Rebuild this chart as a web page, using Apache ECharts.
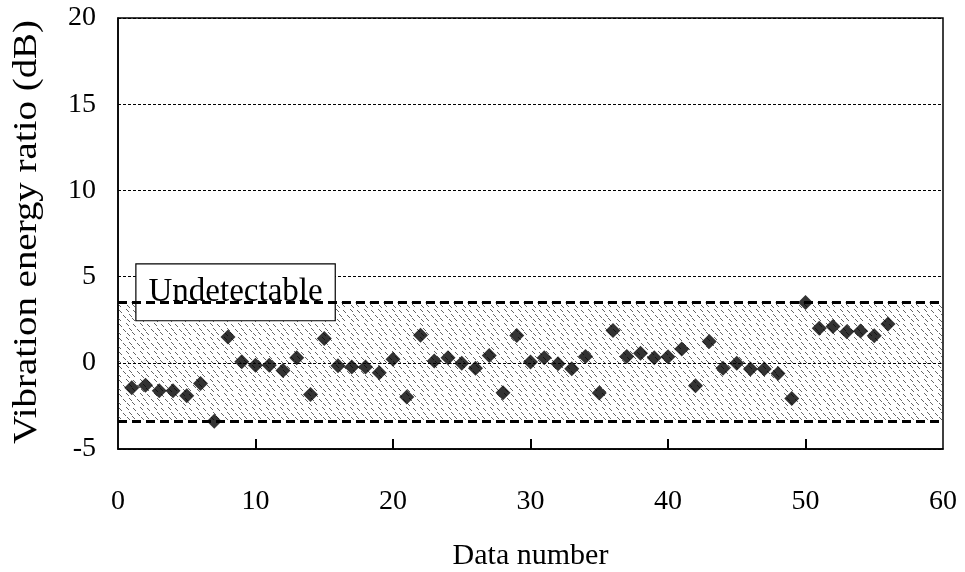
<!DOCTYPE html>
<html><head><meta charset="utf-8">
<script src="https://cdn.jsdelivr.net/npm/echarts@6/dist/echarts.min.js"></script>
<style>html,body{margin:0;padding:0;background:#fff}#c{width:965px;height:572px}</style>
</head><body><div id="c"></div>
<script>
const dataNumbers = [1,2,3,4,5,6,7,8,9,10,11,12,13,14,15,16,17,18,19,20,21,22,23,24,25,26,27,28,29,30,31,32,33,34,35,36,37,38,39,40,41,42,43,44,45,46,47,48,49,50,51,52,53,54,55,56];
const ratios = [-1.45,-1.3,-1.62,-1.62,-1.91,-1.2,-3.39,1.5,0.06,-0.14,-0.14,-0.45,0.29,-1.84,1.41,-0.17,-0.25,-0.25,-0.58,0.2,-1.99,1.6,0.1,0.3,-0.02,-0.31,0.43,-1.74,1.59,0.04,0.29,-0.06,-0.35,0.37,-1.75,1.88,0.37,0.56,0.3,0.35,0.8,-1.33,1.24,-0.31,-0.03,-0.36,-0.36,-0.62,-2.07,3.5,2.0,2.1,1.8,1.85,1.57,2.25];
const upperBound = 3.5;
const lowerBound = -3.4;
const xTicks = [0,10,20,30,40,50,60];
const yTicks = [-5,0,5,10,15,20];
const labelText = 'Undetectable';
const labelBox = [[1.3, 5.74],[15.8, 2.44]];
const xTitle = 'Data number';
const yTitle = 'Vibration energy ratio (dB)';

// hatch pattern
const pc = document.createElement('canvas');
pc.width = 14; pc.height = 14;
const g = pc.getContext('2d');
g.strokeStyle = 'rgba(50,50,50,0.75)';
g.lineWidth = 1;
[[0,1],[7,2],[3,6],[11,7],[6,10],[1,11]].forEach(([x,y])=>{g.beginPath();g.moveTo(x,y);g.lineTo(x+3,y+3);g.stroke();});

const font = 'Liberation Serif';
const yMin = yTicks[0];
const chart = echarts.init(document.getElementById('c'));
chart.setOption({
  animation:false,
  backgroundColor:'#fff',
  grid:{left:118,right:22,top:18,bottom:123,show:true,borderColor:'#000',borderWidth:1.5,outerBoundsMode:'none',containLabel:false},
  graphic:[{id:'ytitle',type:'text',x:27,y:232,rotation:Math.PI/2,scaleX:1.18,
    style:{text:yTitle,font:'33px "Liberation Serif"',fill:'#000',align:'center',verticalAlign:'middle'}}],
  xAxis:{type:'value',min:xTicks[0],max:xTicks[xTicks.length-1],interval:10,
    name:xTitle,nameLocation:'middle',nameGap:92,
    nameTextStyle:{fontFamily:font,fontSize:30,color:'#000'},
    axisLine:{show:true,onZero:false,lineStyle:{color:'#000',width:1.5}},
    axisTick:{show:false},
    axisLabel:{margin:39,fontFamily:font,fontSize:28,color:'#000'},
    splitLine:{show:false}},
  yAxis:{type:'value',min:yMin,max:yTicks[yTicks.length-1],interval:5,
    axisLine:{lineStyle:{color:'#000',width:1.5}},
    axisTick:{show:false},
    axisLabel:{margin:22,fontFamily:font,fontSize:28,color:'#000'},
    splitLine:{show:true,lineStyle:{color:'#000',type:[3,2],width:1}}},
  series:[
    {type:'scatter',data:[],silent:true,
     markArea:{silent:true,data:[
       [{yAxis:lowerBound,itemStyle:{color:{image:pc,repeat:'repeat'}}},{yAxis:upperBound}],
       [{coord:labelBox[0],itemStyle:{color:'#fff',borderColor:'#000',borderWidth:1.2},
         label:{show:true,position:'inside',formatter:labelText,fontFamily:font,fontSize:33,color:'#000'}},
        {coord:labelBox[1]}]
     ]},
     markLine:{silent:true,symbol:'none',label:{show:false},
       lineStyle:{color:'#000',type:[9,5],width:3},
       data:[{yAxis:upperBound},{yAxis:lowerBound}]}},
    {type:'scatter',symbol:'diamond',symbolSize:15,itemStyle:{color:'#000'},z:5,
     data:dataNumbers.map((d,i)=>[d,ratios[i]])}
  ]
});
// inward x-axis tick marks placed through the library's own scale
const yBase = chart.convertToPixel({yAxisIndex:0}, yMin);
chart.setOption({graphic: xTicks.slice(1,-1).map((v,i)=>{
  const px = Math.round(chart.convertToPixel({xAxisIndex:0}, v));
  return {id:'tick'+i,type:'rect',z:100,shape:{x:px-1,y:yBase-10,width:2,height:10},style:{fill:'#000'}};
})});
</script></body></html>
